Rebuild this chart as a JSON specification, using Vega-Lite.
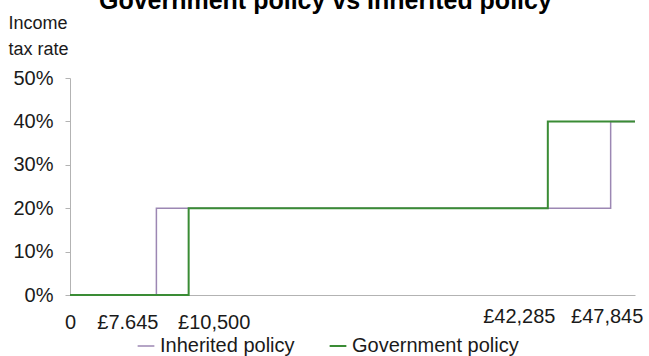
{
  "$schema": "https://vega.github.io/schema/vega-lite/v6.json",
  "autosize": {"type": "none"},
  "width": 565,
  "height": 217,
  "padding": {"left": 70, "top": 78, "right": 14, "bottom": 61},
  "background": "white",
  "config": {
    "font": "Liberation Sans",
    "view": {"stroke": null}
  },
  "title": {
    "text": "Government policy vs Inherited policy",
    "fontSize": 25,
    "fontWeight": "bold",
    "color": "#000000",
    "anchor": "middle",
    "frame": "bounds",
    "baseline": "alphabetic",
    "offset": 0,
    "dy": 20
  },
  "data": {
    "values": [
      {"income": 0, "rate": 0, "series": "Inherited policy"},
      {"income": 7645, "rate": 0.2, "series": "Inherited policy"},
      {"income": 47845, "rate": 0.4, "series": "Inherited policy"},
      {"income": 50000, "rate": 0.4, "series": "Inherited policy"},
      {"income": 0, "rate": 0, "series": "Government policy"},
      {"income": 10500, "rate": 0.2, "series": "Government policy"},
      {"income": 42285, "rate": 0.4, "series": "Government policy"},
      {"income": 50000, "rate": 0.4, "series": "Government policy"}
    ]
  },
  "mark": {"type": "line", "interpolate": "step-after"},
  "encoding": {
    "x": {
      "field": "income",
      "type": "quantitative",
      "scale": {"domain": [0, 50000], "nice": false},
      "axis": {
        "title": null,
        "grid": false,
        "ticks": false,
        "values": [0, 7645, 10500, 42285, 47845],
        "labelExpr": "datum.value == 0 ? '0' : datum.value == 7645 ? '£7.645' : '£' + format(datum.value, ',')",
        "labelAlign": "center",
        "labelOffset": {"condition": [{"test": "datum.value == 7645 || datum.value == 42285", "value": -29}, {"test": "datum.value == 10500", "value": 25}, {"test": "datum.value == 47845", "value": -4}], "value": 0},
        "labelPadding": {"condition": {"test": "datum.value > 40000", "value": 11}, "value": 17},
        "labelOverlap": false,
        "labelFontSize": 20,
        "labelColor": "#1a1a1a",
        "labelFlush": false,
        "domainColor": "#b3b3b3",
        "domainWidth": 1
      }
    },
    "y": {
      "field": "rate",
      "type": "quantitative",
      "scale": {"domain": [0, 0.5], "nice": false},
      "axis": {
        "title": ["Income", "tax rate"],
        "titleAngle": 0,
        "titleAlign": "left",
        "titleBaseline": "alphabetic",
        "titleX": -62,
        "titleY": -50,
        "titleFontSize": 18,
        "titleFontWeight": "normal",
        "titleColor": "#1a1a1a",
        "titleLineHeight": 26,
        "grid": false,
        "values": [0, 0.1, 0.2, 0.3, 0.4, 0.5],
        "format": ".0%",
        "labelFontSize": 20,
        "labelColor": "#1a1a1a",
        "labelPadding": 12,
        "tickSize": 5,
        "tickColor": "#b3b3b3",
        "domainColor": "#b3b3b3"
      }
    },
    "color": {
      "field": "series",
      "type": "nominal",
      "sort": ["Inherited policy", "Government policy"],
      "scale": {"domain": ["Inherited policy", "Government policy"], "range": ["#9c87b3", "#3a8c35"]},
      "legend": {
        "title": null,
        "orient": "none",
        "legendX": 66,
        "legendY": 258,
        "direction": "horizontal",
        "symbolType": "stroke",
        "symbolSize": 280,
        "symbolStrokeWidth": 2,
        "labelFontSize": 20,
        "labelColor": "#1a1a1a",
        "labelOffset": 4,
        "labelLimit": 400,
        "columnPadding": 30
      }
    },
    "strokeWidth": {
      "field": "series",
      "type": "nominal",
      "scale": {"domain": ["Inherited policy", "Government policy"], "range": [1.5, 2]},
      "legend": null
    }
  }
}
